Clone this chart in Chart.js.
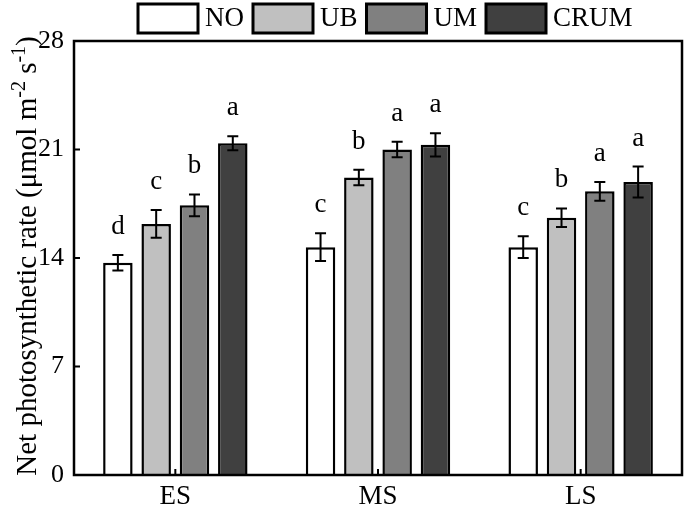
<!DOCTYPE html>
<html>
<head>
<meta charset="utf-8">
<script src="https://cdn.jsdelivr.net/npm/chart.js@4.4.0/dist/chart.umd.min.js"></script>
<style>
  html, body { margin: 0; padding: 0; background: #fff; }
</style>
</head>
<body>
<canvas id="chart" width="685" height="510"></canvas>
<script>
// data
const stages = ['ES', 'MS', 'LS'];
const treatments = ['NO', 'UB', 'UM', 'CRUM'];
const fills = ['#ffffff', '#c0c0c0', '#808080', '#404040'];

const valNO   = [13.7, 14.7, 14.7];
const valUB   = [16.2, 19.2, 16.6];
const valUM   = [17.4, 21.0, 18.3];
const valCRUM = [21.4, 21.3, 18.9];

const errNO   = [0.5, 0.9, 0.7];
const errUB   = [0.9, 0.5, 0.6];
const errUM   = [0.7, 0.5, 0.6];
const errCRUM = [0.45, 0.75, 1.0];

const letNO   = ['d', 'c', 'c'];
const letUB   = ['c', 'b', 'b'];
const letUM   = ['b', 'a', 'a'];
const letCRUM = ['a', 'a', 'a'];

const yTicks = [0, 7, 14, 21, 28];

const SERIF = "'Liberation Serif', 'Times New Roman', serif";
const values = [valNO, valUB, valUM, valCRUM];
const errors = [errNO, errUB, errUM, errCRUM];
const letters = [letNO, letUB, letUM, letCRUM];

// error bars, significance letters, frame, inward ticks
const extras = {
  id: 'extras',
  afterDatasetsDraw(chart) {
    const ctx = chart.ctx;
    const y = chart.scales.y;
    const x = chart.scales.x;
    const area = chart.chartArea;
    ctx.save();
    ctx.strokeStyle = '#000';
    ctx.fillStyle = '#000';
    chart.data.datasets.forEach((ds, i) => {
      const meta = chart.getDatasetMeta(i);
      meta.data.forEach((bar, j) => {
        const v = ds.data[j];
        const e = errors[i][j];
        const top = y.getPixelForValue(v + e);
        const bot = y.getPixelForValue(v - e);
        ctx.lineWidth = 2;
        ctx.beginPath();
        ctx.moveTo(bar.x, top); ctx.lineTo(bar.x, bot);
        ctx.moveTo(bar.x - 5.5, top); ctx.lineTo(bar.x + 5.5, top);
        ctx.moveTo(bar.x - 5.5, bot); ctx.lineTo(bar.x + 5.5, bot);
        ctx.stroke();
        ctx.font = '27px ' + SERIF;
        ctx.textAlign = 'center';
        ctx.textBaseline = 'alphabetic';
        ctx.fillText(letters[i][j], bar.x, top - 21);
      });
    });
    // frame
    ctx.lineWidth = 2.5;
    ctx.strokeRect(area.left, area.top, area.right - area.left, area.bottom - area.top);
    // inward ticks
    ctx.lineWidth = 2;
    ctx.beginPath();
    yTicks.forEach(t => {
      if (t === 0 || t === 28) return;
      const py = y.getPixelForValue(t);
      ctx.moveTo(area.left, py); ctx.lineTo(area.left + 6, py);
    });
    stages.forEach((s, k) => {
      const px = x.getPixelForValue(k);
      ctx.moveTo(px, area.bottom); ctx.lineTo(px, area.bottom - 6);
    });
    ctx.stroke();
    ctx.restore();
  },
  afterDraw(chart) {
    const ctx = chart.ctx;
    ctx.save();
    // legend
    ctx.font = '27px ' + SERIF;
    ctx.textBaseline = 'middle';
    ctx.textAlign = 'left';
    let lx = 138;
    chart.data.datasets.forEach(ds => {
      ctx.fillStyle = ds.backgroundColor;
      ctx.fillRect(lx, 4, 60, 29);
      ctx.lineWidth = 3;
      ctx.strokeStyle = '#000';
      ctx.strokeRect(lx, 4, 60, 29);
      ctx.fillStyle = '#000';
      ctx.fillText(ds.label, lx + 67, 19);
      lx += 67 + ctx.measureText(ds.label).width + 9;
    });
    // y axis title with superscripts
    const parts = [
      ['Net photosynthetic rate (\u03bcmol m', false],
      ['-2', true],
      [' s', false],
      ['-1', true],
      [')', false]
    ];
    const big = '29px ' + SERIF, small = '20px ' + SERIF;
    let total = 0;
    parts.forEach(p => { ctx.font = p[1] ? small : big; total += ctx.measureText(p[0]).width; });
    ctx.translate(36, 256);
    ctx.rotate(-Math.PI / 2);
    ctx.fillStyle = '#000';
    ctx.textBaseline = 'alphabetic';
    let tx = -total / 2;
    parts.forEach(p => {
      ctx.font = p[1] ? small : big;
      ctx.fillText(p[0], tx, p[1] ? -11 : 0);
      tx += ctx.measureText(p[0]).width;
    });
    ctx.restore();
  }
};

new Chart(document.getElementById('chart'), {
  type: 'bar',
  data: {
    labels: stages,
    datasets: treatments.map((t, i) => ({
      label: t,
      data: values[i],
      backgroundColor: fills[i],
      borderColor: '#000',
      borderWidth: 2.5,
      barPercentage: 0.77,
      categoryPercentage: 0.756
    }))
  },
  options: {
    responsive: false,
    animation: false,
    devicePixelRatio: 1,
    layout: { padding: { top: 41, right: 3, left: 0, bottom: 0 } },
    plugins: { legend: { display: false }, tooltip: { enabled: false } },
    scales: {
      x: {
        grid: { display: false, drawTicks: false },
        border: { display: false },
        ticks: { color: '#000', font: { family: SERIF, size: 27 }, padding: 6 },
        afterFit: s => { s.height = 35; }
      },
      y: {
        min: 0,
        max: 28,
        afterBuildTicks: s => { s.ticks = yTicks.map(v => ({ value: v })); },
        grid: { display: false, drawTicks: false },
        border: { display: false },
        ticks: { color: '#000', font: { family: SERIF, size: 26 }, padding: 10 },
        afterFit: s => { s.width = 74; }
      }
    }
  },
  plugins: [extras]
});
</script>
</body>
</html>
